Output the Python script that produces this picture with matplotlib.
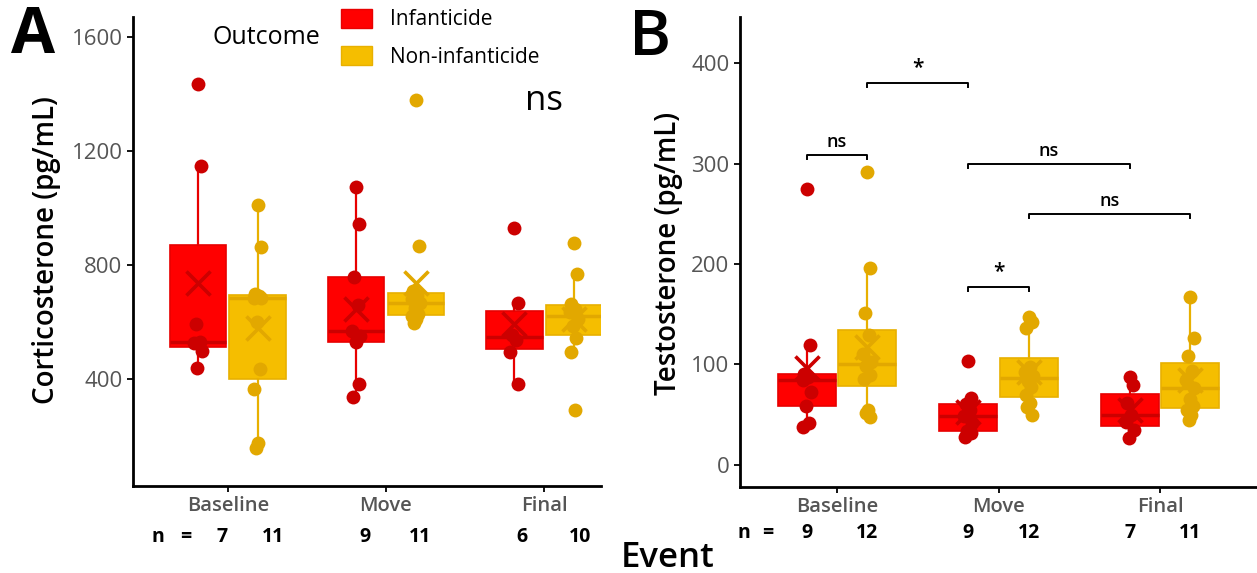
import numpy as np
import matplotlib.pyplot as plt
from matplotlib.patches import Patch

plt.rcParams['font.family'] = ['Open Sans', 'DejaVu Sans']

events = ['Baseline', 'Move', 'Final']
outcomes = ['Infanticide', 'Non-infanticide']

# corticosterone (pg/mL), one list per event
cort_inf = [
    [1434, 1146, 593, 530, 527, 498, 439],
    [1075, 945, 759, 660, 569, 550, 530, 382, 337],
    [931, 667, 555, 537, 495, 382],
]
cort_non = [
    [1009, 864, 700, 690, 686, 683, 600, 435, 365, 175, 157],
    [1378, 868, 709, 695, 680, 667, 650, 630, 620, 612, 597],
    [878, 769, 665, 645, 634, 610, 585, 545, 495, 291],
]

# testosterone (pg/mL)
testo_inf = [
    [275, 119, 90.5, 88, 85, 73, 59, 42, 38],
    [103, 67, 61, 55, 49, 42, 34, 32, 28],
    [88, 80, 62, 50, 43, 35, 27],
]
testo_non = [
    [292, 196, 151, 129, 110, 102, 98, 90, 86, 55, 52, 48],
    [147, 142, 136, 97, 93, 89, 84, 78, 70, 62, 58, 50],
    [167, 126, 108, 94, 85, 77, 66, 59, 55, 50, 45],
]

# pairwise tests in panel B: (event, outcome) -> (event, outcome), height, label
sig_from = [('Baseline', 1), ('Baseline', 0), ('Move', 0), ('Move', 1), ('Move', 0)]
sig_to = [('Move', 0), ('Baseline', 1), ('Final', 0), ('Final', 1), ('Move', 1)]
sig_y = [380, 309, 300, 250, 177]
sig_label = ['*', 'ns', 'ns', 'ns', '*']

fill = ['#FF0000', '#F5BE00']
dark = ['#CC0000', '#E2A800']
edge = ['#E80000', '#E8B000']
dodge = [-0.1875, 0.1875]
jit = [0.0, 0.02, -0.015, 0.01, -0.025, 0.025, -0.005, 0.015, -0.02, 0.005, -0.01, 0.02]


def draw_panel(ax, inf, non, width):
    for g, groups in enumerate([inf, non]):
        pos = np.arange(1, 4) + dodge[g]
        ax.boxplot(groups, positions=pos, widths=width, patch_artist=True,
                   showfliers=False, showcaps=False,
                   boxprops=dict(facecolor=fill[g], edgecolor=edge[g], linewidth=1.2),
                   medianprops=dict(color=dark[g], linewidth=2.5),
                   whiskerprops=dict(color=edge[g], linewidth=1.6), zorder=2)
        for p, vals in zip(pos, groups):
            xs = p + np.array([jit[i % len(jit)] for i in range(len(vals))])
            ax.scatter(xs, vals, s=100, color=dark[g], zorder=3, linewidths=0)
            ax.scatter([p], [np.mean(vals)], marker='x', s=300, color=dark[g],
                       linewidths=2.6, zorder=4)
    ax.set_xticks([1, 2, 3])
    ax.set_xticklabels(events, fontsize=14.5, color='#555555', fontweight='semibold')
    ax.tick_params(axis='y', labelsize=16, labelcolor='#555555')
    ax.tick_params(length=4, width=1.3, color='black')
    for s in ['top', 'right']:
        ax.spines[s].set_visible(False)
    for s in ['left', 'bottom']:
        ax.spines[s].set_linewidth(2)


fig = plt.figure(figsize=(12.57, 5.73), dpi=100)
axA = fig.add_axes([133 / 1257, 1 - 486 / 573, 468 / 1257, 469 / 573])
axB = fig.add_axes([740 / 1257, 1 - 487 / 573, 517 / 1257, 470 / 573])

draw_panel(axA, cort_inf, cort_non, 0.355)
axA.set_xlim(0.4, 3.36)
axA.set_ylim(25, 1670)
axA.set_yticks([400, 800, 1200, 1600])
axA.text(3, 1375, 'ns', fontsize=25, ha='center', va='center')

draw_panel(axB, testo_inf, testo_non, 0.36)
axB.set_xlim(0.4, 3.6)
axB.set_ylim(-22, 446)
axB.set_yticks([0, 100, 200, 300, 400])

for (e1, g1), (e2, g2), y, lab in zip(sig_from, sig_to, sig_y, sig_label):
    x1 = events.index(e1) + 1 + dodge[g1]
    x2 = events.index(e2) + 1 + dodge[g2]
    axB.plot([x1, x1, x2, x2], [y - 4, y, y, y - 4], color='black', lw=1.4,
             clip_on=False)
    axB.text((x1 + x2) / 2, y + 4, lab, ha='center', va='bottom',
             fontsize=13 if lab == 'ns' else 15, fontweight='semibold')

# sample sizes below each box
n_shift_A = [[0.15, 0.055, 0.05], [0.10, 0.03, 0.04]]
n_shift_B = [[0.0, 0.0, 0.0], [0.0, 0.0, 0.0]]
for ax, inf, non, nx, eqx, yrow, shift in [(axA, cort_inf, cort_non, 0.557, 0.734, 537, n_shift_A),
                                            (axB, testo_inf, testo_non, 0.426, 0.574, 533, n_shift_B)]:
    trans = ax.get_xaxis_transform()
    box = ax.get_position()
    yfrac = (1 - yrow / 573 - box.y0) / box.height
    ax.text(nx, yfrac, 'n', transform=trans, ha='center', va='center',
            fontsize=14, fontweight='bold', clip_on=False)
    ax.text(eqx, yfrac, '=', transform=trans, ha='center', va='center',
            fontsize=14, fontweight='bold', clip_on=False)
    for g, groups in enumerate([inf, non]):
        for i, vals in enumerate(groups):
            ax.text(i + 1 + dodge[g] + shift[g][i], yfrac, str(len(vals)), transform=trans,
                    ha='center', va='center', fontsize=14, fontweight='bold',
                    clip_on=False)

axA.set_ylabel('Corticosterone (pg/mL)', fontsize=20, fontweight='semibold')
axB.set_ylabel('Testosterone (pg/mL)', fontsize=20, fontweight='semibold')
axA.yaxis.set_label_coords(61 / 1257, 1 - 250 / 573, transform=fig.transFigure)
axB.yaxis.set_label_coords(683 / 1257, 1 - 253 / 573, transform=fig.transFigure)

fig.text(33 / 1257, 1 - 53 / 573, 'A', fontsize=46, fontweight='bold', ha='center', va='baseline')
fig.text(650 / 1257, 1 - 55 / 573, 'B', fontsize=46, fontweight='semibold', ha='center', va='baseline')
fig.text(668 / 1257, 1 - 567 / 573, 'Event', fontsize=25, ha='center', va='baseline',
         fontweight='semibold')

fig.text(213 / 1257, 1 - 38 / 573, 'Outcome', fontsize=18, ha='left', va='center')
handles = [Patch(facecolor=fill[g], edgecolor=edge[g], label=outcomes[g]) for g in range(2)]
fig.legend(handles=handles, loc='upper left', bbox_to_anchor=(341 / 1257, 1 - 9 / 573),
           frameon=False, fontsize=15, handlelength=1.5, handleheight=1.0,
           handletextpad=0.85, labelspacing=0.75, borderpad=0, borderaxespad=0)

fig.savefig('out.png', dpi=100)
